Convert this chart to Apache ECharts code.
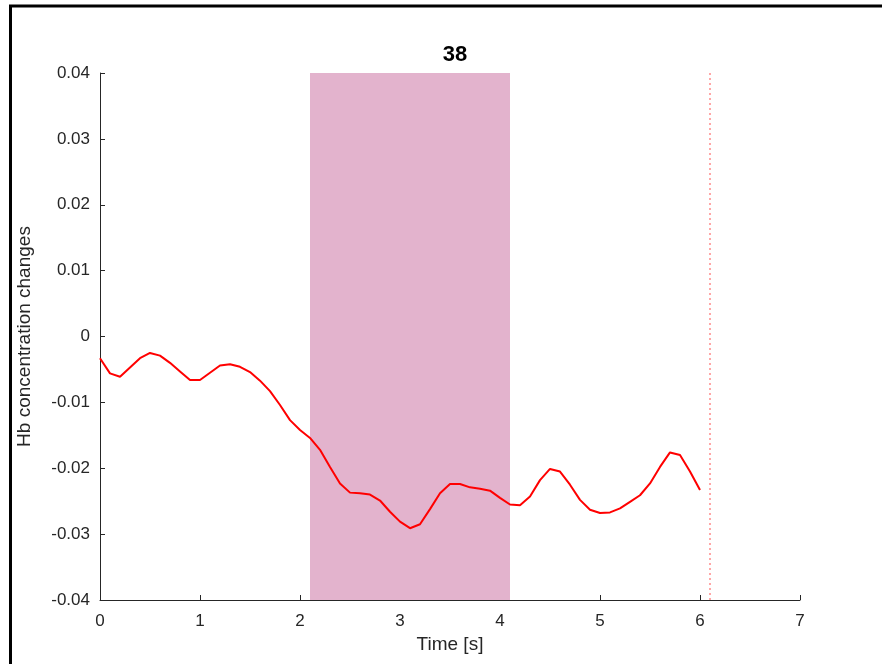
<!DOCTYPE html>
<html lang="en">
	<head>
		<meta charset="utf-8">
		<title>38</title>
		<script src="https://cdn.jsdelivr.net/npm/echarts@6/dist/echarts.min.js"></script>
		<style type="text/css">
			html, body { margin: 0; padding: 0; background: #fff; }
			#chart { width: 882px; height: 664px; }
		</style>
	</head>
	<body>
		<div id="chart"></div>
		<script type="text/javascript">
			// time points [s]
			var times = [0.0, 0.1, 0.2, 0.3, 0.4, 0.5, 0.6, 0.7, 0.8, 0.9,
				1.0, 1.1, 1.2, 1.3, 1.4, 1.5, 1.6, 1.7, 1.8, 1.9,
				2.0, 2.1, 2.2, 2.3, 2.4, 2.5, 2.6, 2.7, 2.8, 2.9,
				3.0, 3.1, 3.2, 3.3, 3.4, 3.5, 3.6, 3.7, 3.8, 3.9,
				4.0, 4.1, 4.2, 4.3, 4.4, 4.5, 4.6, 4.7, 4.8, 4.9,
				5.0, 5.1, 5.2, 5.3, 5.4, 5.5, 5.6, 5.7, 5.8, 5.9, 6.0];
			// Hb concentration changes
			var hb = [-0.0033, -0.0056, -0.0061, -0.0047, -0.0033, -0.0025, -0.0029, -0.0040, -0.0053, -0.0066,
				-0.0066, -0.0055, -0.0044, -0.0042, -0.0046, -0.0054, -0.0067, -0.0083, -0.0104, -0.0127,
				-0.0142, -0.0154, -0.0172, -0.0198, -0.0223, -0.0237, -0.0238, -0.0240, -0.0249, -0.0266,
				-0.0281, -0.0291, -0.0285, -0.0262, -0.0238, -0.0224, -0.0224, -0.0229, -0.0231, -0.0234,
				-0.0245, -0.0255, -0.0256, -0.0243, -0.0218, -0.0201, -0.0205, -0.0225, -0.0248, -0.0263,
				-0.0268, -0.0267, -0.0261, -0.0251, -0.0241, -0.0223, -0.0198, -0.0176, -0.0180, -0.0205, -0.0233];
			// stimulus window and marker
			var stimStart = 2.1, stimEnd = 4.1;
			var markerTime = 6.1;
			var title = "38";

			var axisCol = "#262626";
			var pts = times.map(function(t, i) { return [t, hb[i]]; });

			var myChart = echarts.init(document.getElementById("chart"));
			myChart.setOption({
				animation: false,
				title: {
					text: title,
					left: 450, top: 39, textAlign: "center",
					textStyle: { fontFamily: "Liberation Sans", fontSize: 22, fontWeight: "bold", color: "#000" }
				},
				graphic: [
					{ type: "line", shape: { x1: 10.5, y1: 6, x2: 10.5, y2: 664 }, style: { stroke: "#000", lineWidth: 3 } },
					{ type: "line", shape: { x1: 9, y1: 6, x2: 882, y2: 6 }, style: { stroke: "#000", lineWidth: 3 } }
				],
				grid: { left: 100, right: 82, top: 73, bottom: 64 },
				xAxis: {
					type: "value", min: 0, max: 7, interval: 1,
					name: "Time [s]", nameLocation: "middle", nameGap: 35,
					nameTextStyle: { fontFamily: "Liberation Sans", fontSize: 19, color: axisCol },
					axisLine: { onZero: false, lineStyle: { color: axisCol, width: 1 } },
					axisTick: { inside: true, length: 5, lineStyle: { color: axisCol } },
					axisLabel: { fontFamily: "Liberation Sans", fontSize: 17, color: axisCol, margin: 13 },
					splitLine: { show: false }
				},
				yAxis: {
					type: "value", min: -0.04, max: 0.04, interval: 0.01,
					name: "Hb concentration changes", nameLocation: "middle", nameGap: 66,
					nameTextStyle: { fontFamily: "Liberation Sans", fontSize: 19, color: axisCol },
					axisLine: { show: true, onZero: false, lineStyle: { color: axisCol, width: 1 } },
					axisTick: { show: true, inside: true, length: 5, lineStyle: { color: axisCol } },
					axisLabel: { fontFamily: "Liberation Sans", fontSize: 17, color: axisCol, margin: 10 },
					splitLine: { show: false }
				},
				series: [{
					type: "line",
					data: pts,
					showSymbol: false,
					smooth: false,
					lineStyle: { color: "#ff0000", width: 2 },
					markArea: {
						silent: true,
						itemStyle: { color: "#e3b3cd", opacity: 1 },
						data: [[{ xAxis: stimStart }, { xAxis: stimEnd }]]
					},
					markLine: {
						silent: true,
						symbol: ["none", "none"],
						label: { show: false },
						lineStyle: { color: "#ff8a8a", type: [2, 3], width: 1.5 },
						data: [{ xAxis: markerTime }]
					}
				}]
			});
		</script>
	</body>
</html>
